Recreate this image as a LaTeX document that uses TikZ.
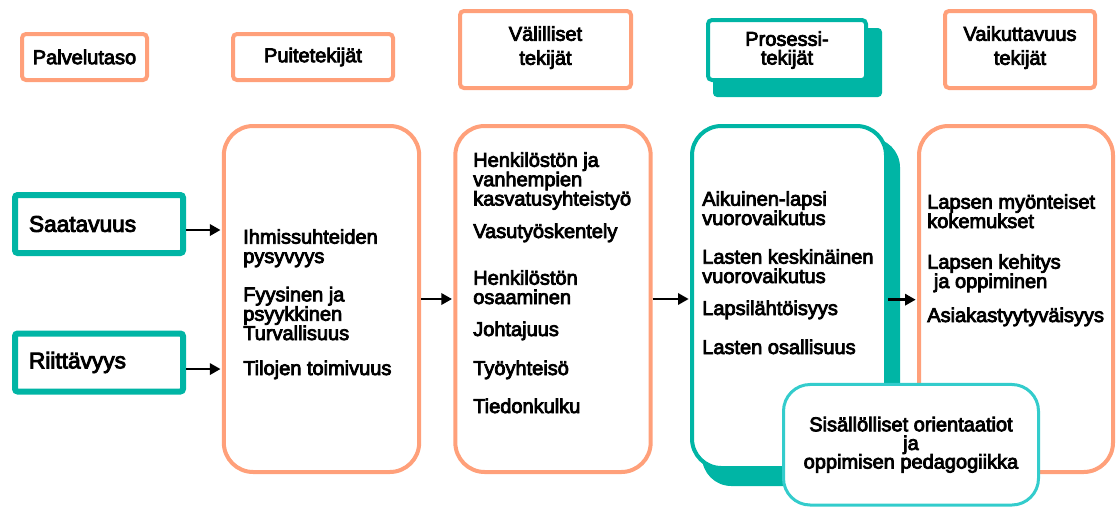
\documentclass[tikz,border=0pt]{standalone}
\usepackage{fontspec}
\setmainfont{Liberation Sans}[FakeBold=4]
\usetikzlibrary{arrows.meta}
\definecolor{salm}{RGB}{255,160,122}
\definecolor{tealA}{RGB}{0,181,165}
\definecolor{tealL}{RGB}{51,204,204}
\newcommand\itemfont{\fontsize{15pt}{14.5pt}\selectfont}
\newcommand\hdrfont{\fontsize{15pt}{18pt}\selectfont}
\begin{document}
\begin{tikzpicture}[x=0.75pt,y=-0.75pt,
  hdr/.style={draw=salm, line width=3pt, fill=white, rounded corners=3pt, align=center, inner sep=0pt, font=\hdrfont},
  big/.style={draw=salm, line width=3pt, fill=white, rounded corners=22pt, inner sep=0pt, minimum width=146.5pt, minimum height=259.5pt},
  tl/.style={draw=tealA, line width=4.5pt, fill=white, rounded corners=2pt, font=\fontsize{17pt}{17pt}\selectfont, align=left, text width=105pt, inner xsep=10.5pt, minimum height=43.5pt},
  item/.style={anchor=base west, align=left, inner sep=0pt, font=\itemfont},
  arr/.style={-{Triangle[length=8pt,width=8.5pt]}, line width=1.8pt, shorten >=1pt}]
\useasboundingbox (0,0) rectangle (1117,507);
% headers
\node[hdr, minimum width=93.75pt, minimum height=34.5pt] (palv) at (84.5,57) {Palvelutaso};
\node[hdr, minimum width=120pt, minimum height=34.5pt] (puiteh) at (313,57) {Puitetekijät};
\node[hdr, minimum width=128.25pt, minimum height=57.75pt, text depth=6pt] (valh) at (545.5,49.5) {Välilliset\\tekijät};
\fill[tealA, rounded corners=3pt] (713,28) rectangle (882,97);
\node[hdr, draw=tealA, minimum width=118.5pt, minimum height=45pt, font=\fontsize{15pt}{14pt}\selectfont] (proh) at (787,50) {Prosessi-\\tekijät};
\node[hdr, minimum width=112.5pt, minimum height=57.75pt, text depth=6pt] (vaih) at (1020,49.5) {Vaikuttavuus\\tekijät};
% left teal boxes
\node[tl] (saat) at (99,224) {Saatavuus};
\node[tl] (riit) at (99,362.5) {Riittävyys};
% big boxes
\node[big] (puiteB) at (321.5,299) {};
\node[big] (valB) at (553,299) {};
\fill[tealA, rounded corners=22pt] (702,138) rectangle (900,486);
\node[big, draw=tealA, minimum width=145.5pt, minimum height=256.5pt] (proB) at (789,297) {};
\node[big, minimum width=145.5pt] (vaiB) at (1016,299) {};
% items (base anchor of a multi-line node lies below its last line)
\node[item] (p1) at (243,263) {Ihmissuhteiden\\pysyvyys};
\node[item] (p2) at (243,340) {Fyysinen ja\\psyykkinen\\Turvallisuus};
\node[item] (p3) at (243,375) {Tilojen toimivuus};
\node[item] (v1) at (473,205.5) {Henkilöstön ja\\vanhempien\\kasvatusyhteistyö};
\node[item] (v2) at (473,238) {Vasutyöskentely};
\node[item] (v3) at (473,304) {Henkilöstön\\osaaminen};
\node[item] (v4) at (473,336) {Johtajuus};
\node[item] (v5) at (473,375) {Työyhteisö};
\node[item] (v6) at (473,413) {Tiedonkulku};
\node[item] (r1) at (702,225) {Aikuinen-lapsi\\vuorovaikutus};
\node[item] (r2) at (702,283) {Lasten keskinäinen\\vuorovaikutus};
\node[item] (r3) at (702,315) {Lapsilähtöisyys};
\node[item] (r4) at (702,354) {Lasten osallisuus};
\node[item] (k1) at (927,228) {Lapsen myönteiset\\kokemukset};
\node[item] (k2) at (927,288) {Lapsen kehitys\\\hspace*{5pt}ja oppiminen};
\node[item] (k3) at (927,322) {Asiakastyytyväisyys};
% bottom overlay box
\node[draw=tealL, line width=2.25pt, fill=white, rounded corners=20pt, minimum width=191.25pt, minimum height=90.4pt, align=center, font=\fontsize{15pt}{14pt}\selectfont, inner sep=0pt] (sis) at (911,444.75) {Sisällölliset orientaatiot\\ja\\oppimisen pedagogiikka};
% arrows
\draw[arr] ([yshift=-4.5pt]saat.east) -- ([yshift=-4.5pt]saat.east -| puiteB.west);
\draw[arr] ([yshift=-4.9pt]riit.east) -- ([yshift=-4.9pt]riit.east -| puiteB.west);
\draw[arr] (puiteB.east) -- (puiteB.east -| valB.west);
\draw[arr] (valB.east) -- (valB.east -| proB.west);
\draw[arr] ([yshift=-2pt]proB.east) -- ([yshift=-2pt]proB.east -| vaiB.west);
\end{tikzpicture}
\end{document}
